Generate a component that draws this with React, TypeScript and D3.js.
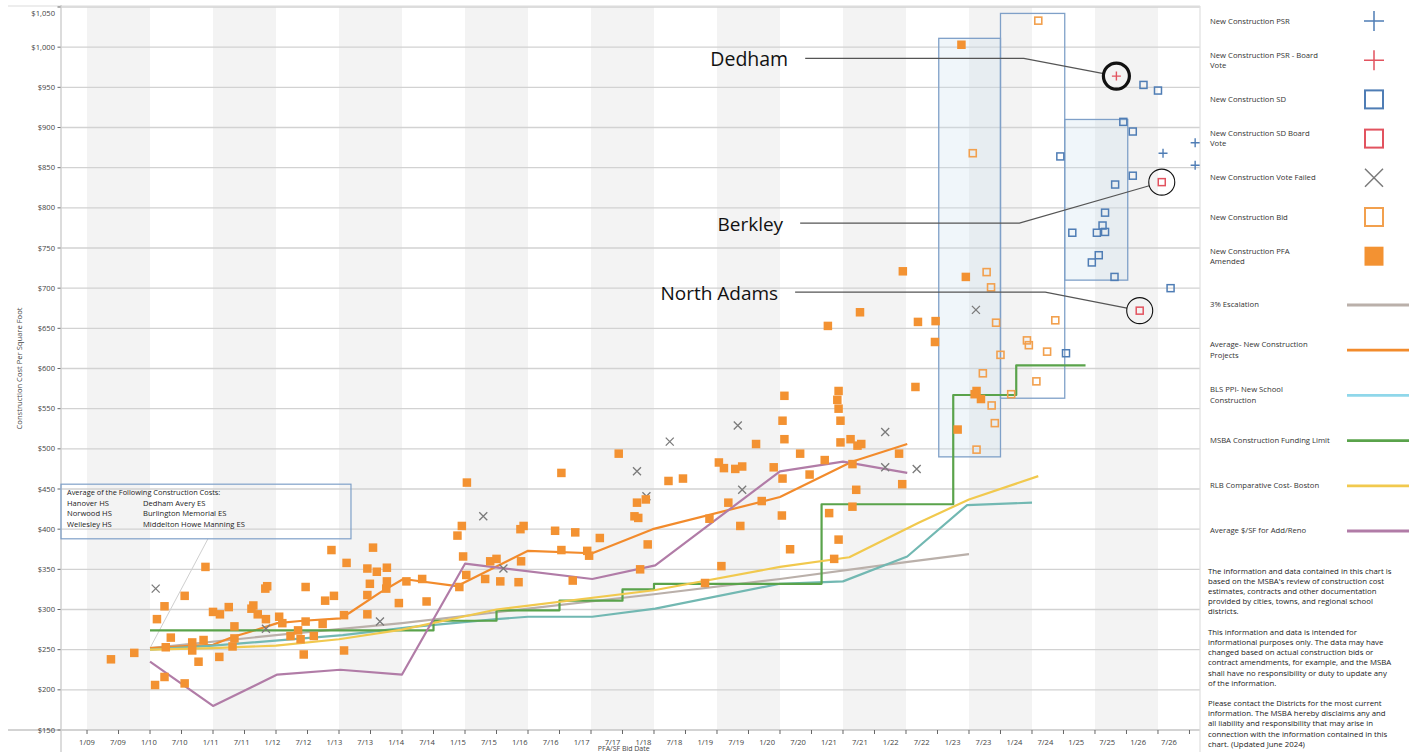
import React, { useEffect, useRef } from 'react';
import * as d3 from 'd3';

type Pt = [number, number];

// axis values
const yTicks = [150, 200, 250, 300, 350, 400, 450, 500, 550, 600, 650, 700, 750, 800, 850, 900, 950, 1000, 1050];
const xTickLabels = [
  '1/09', '7/09', '1/10', '7/10', '1/11', '7/11', '1/12', '7/12', '1/13', '7/13', '1/14', '7/14',
  '1/15', '7/15', '1/16', '7/16', '1/17', '7/17', '1/18', '7/18', '1/19', '7/19', '1/20', '7/20',
  '1/21', '7/21', '1/22', '7/22', '1/23', '7/23', '1/24', '7/24', '1/25', '7/25', '1/26', '7/26'
];
const shadedYears = [2009, 2011, 2013, 2015, 2017, 2019, 2021, 2023, 2025];

// scatter series: [decimal year, $ per sf]
const pfaAmended: Pt[] = [
  [2009.38, 238], [2009.75, 246], [2010.11, 288], [2010.23, 304], [2010.08, 206], [2010.23, 216], [2010.33, 265],
  [2010.25, 253], [2010.55, 317], [2010.55, 208], [2010.88, 353], [2010.67, 259], [2010.67, 249], [2010.77, 235],
  [2010.85, 262], [2011.0, 297], [2011.11, 294], [2011.1, 241], [2011.25, 303], [2011.34, 279], [2011.34, 264],
  [2011.31, 254], [2011.64, 305], [2011.61, 301], [2011.71, 294], [2011.84, 288], [2011.83, 326], [2011.86, 329],
  [2012.05, 291], [2012.1, 283], [2012.23, 267], [2012.35, 274], [2012.39, 263], [2012.44, 244], [2012.47, 328],
  [2012.47, 285], [2012.6, 267], [2012.74, 282], [2012.78, 311], [2012.92, 317], [2012.88, 374], [2013.08, 293],
  [2013.08, 249], [2013.12, 358], [2013.45, 351], [2013.45, 318], [2013.45, 294], [2013.49, 332], [2013.54, 377],
  [2013.6, 347], [2013.76, 352], [2013.76, 335], [2013.75, 326], [2013.95, 308], [2014.07, 335],
  [2014.32, 338], [2014.39, 310], [2014.88, 392], [2014.95, 404], [2015.03, 458], [2014.97, 366], [2015.02, 343],
  [2014.91, 328], [2015.32, 338], [2015.4, 360], [2015.5, 363], [2015.56, 335], [2015.85, 334], [2015.89, 360],
  [2015.88, 400], [2015.93, 404], [2016.43, 398], [2016.53, 470], [2016.53, 374], [2016.75, 396], [2016.71, 336],
  [2016.94, 373], [2016.97, 367], [2017.14, 389], [2017.44, 494], [2017.69, 416], [2017.75, 414], [2017.73, 433],
  [2017.87, 437], [2017.9, 381], [2017.78, 350], [2018.23, 460], [2018.46, 463], [2018.81, 333], [2018.88, 413],
  [2019.03, 483], [2019.11, 476], [2019.29, 475], [2019.4, 478], [2019.18, 433], [2019.07, 354], [2019.37, 404],
  [2019.62, 506], [2019.71, 435], [2019.9, 477], [2020.04, 463], [2020.03, 417], [2020.07, 566], [2020.04, 535],
  [2020.07, 512], [2020.16, 375], [2020.32, 494], [2020.47, 468], [2020.71, 486], [2020.78, 420], [2020.86, 363],
  [2020.93, 387], [2020.93, 572], [2020.91, 561], [2020.93, 550], [2020.96, 535], [2020.96, 508], [2021.12, 512],
  [2021.23, 504], [2021.29, 506], [2021.15, 481], [2021.21, 449], [2021.15, 428], [2021.89, 494], [2021.94, 456],
  [2022.15, 577], [2020.76, 653], [2021.27, 670], [2022.88, 1003], [2021.95, 721], [2022.95, 714], [2022.19, 658],
  [2022.47, 659], [2022.46, 633], [2023.12, 572], [2023.19, 562], [2023.09, 568], [2022.82, 524]
];
const bidPoints: Pt[] = [
  [2024.1, 1033], [2023.06, 868], [2023.28, 720], [2023.35, 701], [2023.43, 657], [2023.5, 617], [2023.22, 594],
  [2023.36, 554], [2023.41, 532], [2023.12, 499], [2023.67, 568], [2024.37, 660], [2023.92, 635], [2023.95, 629],
  [2024.24, 621], [2024.07, 584]
];
const sdPoints: Pt[] = [
  [2025.77, 953], [2026.0, 946], [2025.45, 907], [2025.6, 895], [2024.45, 864], [2025.6, 840], [2025.32, 829],
  [2025.16, 794], [2024.64, 769], [2025.12, 778], [2025.03, 769], [2025.16, 770], [2025.06, 741], [2024.95, 732],
  [2025.31, 714], [2026.2, 700], [2024.54, 619]
];
const psrPoints: Pt[] = [[2026.08, 868], [2026.59, 881], [2026.59, 853]];
const psrBoardVote: Pt[] = [[2025.34, 964]];
const sdBoardVote: Pt[] = [[2026.06, 832], [2025.71, 672]];
const voteFailed: Pt[] = [
  [2010.09, 326], [2011.84, 276], [2013.65, 285], [2015.29, 416], [2015.61, 351], [2017.73, 472], [2017.88, 441],
  [2018.25, 509], [2019.33, 529], [2019.4, 449], [2021.67, 521], [2021.67, 477], [2022.17, 475], [2023.11, 673]
];

// line series
const escalation3: Pt[] = [[2010.0, 252], [2012.0, 268], [2014.0, 283], [2016.0, 301], [2018.0, 319], [2020.0, 338], [2022.0, 359], [2023.0, 369]];
const avgNewConstruction: Pt[] = [
  [2010.0, 252], [2010.24, 253], [2010.68, 255], [2011.0, 256], [2011.32, 266], [2011.54, 271], [2012.02, 283],
  [2012.43, 286], [2013.02, 289], [2013.17, 296], [2013.65, 321], [2014.02, 338], [2014.87, 329], [2016.0, 373],
  [2017.02, 370], [2017.98, 400], [2020.0, 440], [2021.14, 484], [2022.02, 506]
];
const blsPpi: Pt[] = [
  [2010.0, 250], [2011.0, 255], [2013.06, 268], [2014.13, 278], [2015.5, 288], [2016.0, 291], [2017.02, 291],
  [2018.02, 301], [2020.0, 332], [2021.0, 335], [2022.02, 366], [2022.97, 430], [2024.0, 433]
];
const msbaLimit: Pt[] = [
  [2010.0, 274], [2014.5, 286], [2015.5, 299], [2016.5, 311], [2017.5, 325], [2018.0, 332], [2020.66, 431],
  [2022.75, 567], [2023.75, 604], [2024.85, 604]
];
const rlbBoston: Pt[] = [
  [2010.0, 250], [2011.0, 252], [2012.0, 255], [2013.0, 263], [2014.0, 275], [2015.5, 300], [2018.0, 324],
  [2020.0, 353], [2021.1, 365], [2022.2, 408], [2023.0, 437], [2024.1, 466]
];
const avgAddReno: Pt[] = [
  [2010.0, 235], [2011.0, 180], [2012.02, 219], [2013.02, 225], [2014.0, 219], [2015.0, 357], [2017.02, 338],
  [2018.02, 355], [2020.0, 472], [2021.0, 484], [2022.02, 470]
];

// highlight boxes [yr0, yr1, $low, $high]
const highlightBoxes = [
  { x0: 2022.52, x1: 2023.5, v0: 490, v1: 1011, filled: true },
  { x0: 2023.5, x1: 2024.52, v0: 563, v1: 1042, filled: false },
  { x0: 2024.52, x1: 2025.52, v0: 710, v1: 910, filled: true }
];

const callouts = [
  { name: 'Dedham', at: [2025.34, 964], lineV: 986, startYr: 2020.4, bendYr: 2023.87, heavy: true },
  { name: 'Berkley', at: [2026.06, 832], lineV: 781, startYr: 2020.32, bendYr: 2023.8, heavy: false },
  { name: 'North Adams', at: [2025.71, 672], lineV: 695, startYr: 2020.24, bendYr: 2024.21, heavy: false }
];

const noteRows = [
  ['Hanover HS', 'Dedham Avery ES'],
  ['Norwood HS', 'Burlington Memorial ES'],
  ['Wellesley HS', 'Middelton Howe Manning ES']
];

const disclaimer = [
  'The information and data contained in this chart is',
  "based on the MSBA's review of construction cost",
  'estimates, contracts and other documentation',
  'provided by cities, towns, and regional school',
  'districts.',
  '',
  'This information and data is intended for',
  'informational purposes only. The data may have',
  'changed based on actual construction bids or',
  'contract amendments, for example, and the MSBA',
  'shall have no responsibility or duty to update any',
  'of the information.',
  '',
  'Please contact the Districts for the most current',
  'information. The MSBA hereby disclaims any and',
  'all liability and responsibility that may arise in',
  'connection with the information contained in this',
  'chart. (Updated June 2024)'
];

const BLUE = '#4f7db5';
const RED = '#e2535f';
const ORANGE = '#f39232';
const ORANGE_OPEN = '#f2a04e';
const GREY_X = '#7a7a7a';

const markerLegend = [
  { label: ['New Construction PSR'], kind: 'plus', color: BLUE },
  { label: ['New Construction PSR - Board', 'Vote'], kind: 'plus', color: RED },
  { label: ['New Construction SD'], kind: 'open', color: BLUE },
  { label: ['New Construction SD Board', 'Vote'], kind: 'open', color: RED },
  { label: ['New Construction Vote Failed'], kind: 'x', color: GREY_X },
  { label: ['New Construction Bid'], kind: 'open', color: ORANGE_OPEN },
  { label: ['New Construction PFA', 'Amended'], kind: 'filled', color: ORANGE }
];

const lineSeries = [
  { label: ['3% Escalation'], data: escalation3, color: '#bab0aa', legendColor: '#bab0aa', step: false },
  { label: ['Average- New Construction', 'Projects'], data: avgNewConstruction, color: '#f28b2c', legendColor: '#f28b2c', step: false },
  { label: ['BLS PPI- New School', 'Construction'], data: blsPpi, color: '#72b8b2', legendColor: '#8fd7ea', step: false },
  { label: ['MSBA Construction Funding Limit'], data: msbaLimit, color: '#5aa34b', legendColor: '#5aa34b', step: true },
  { label: ['RLB Comparative Cost- Boston'], data: rlbBoston, color: '#f1c94e', legendColor: '#f1c94e', step: false },
  { label: ['Average $/SF for Add/Reno'], data: avgAddReno, color: '#b17ca7', legendColor: '#b17ca7', step: false }
];

const FONT = "'Open Sans', sans-serif";

const App: React.FC = () => {
  const svgRef = useRef<SVGSVGElement>(null);

  useEffect(() => {
    document.body.style.margin = '0';
    if (!svgRef.current) return;
    const svg = d3.select(svgRef.current);
    svg.selectAll('*').remove();

    const left = 61, right = 1200, top = 7, bottom = 730;
    const x = d3.scaleLinear().domain([2008.587, 2026.667]).range([left, right]);
    const y = d3.scaleLinear().domain([150, 1050]).range([bottom, top]);

    // alternating year bands
    svg.append('g').selectAll('rect')
      .data(shadedYears)
      .enter().append('rect')
      .attr('x', d => x(d))
      .attr('y', top)
      .attr('width', d => x(d + 1) - x(d))
      .attr('height', bottom - top)
      .attr('fill', '#f3f3f3');

    // grid
    svg.append('g').selectAll('line')
      .data(yTicks.filter(v => v > 150))
      .enter().append('line')
      .attr('x1', left).attr('x2', right)
      .attr('y1', d => y(d)).attr('y2', d => y(d))
      .attr('stroke', '#d2d2d2')
      .attr('stroke-width', 1.3);

    // frame
    svg.append('line').attr('x1', 8).attr('x2', right).attr('y1', top - 1).attr('y2', top - 1)
      .attr('stroke', '#dcdcdc').attr('stroke-width', 1.2);
    svg.append('line').attr('x1', 8).attr('x2', right).attr('y1', bottom).attr('y2', bottom)
      .attr('stroke', '#c4c4c4').attr('stroke-width', 1.3);
    svg.append('line').attr('x1', left).attr('x2', left).attr('y1', top - 2).attr('y2', 752)
      .attr('stroke', '#d0d0d0').attr('stroke-width', 1.5);
    svg.append('line').attr('x1', right).attr('x2', right).attr('y1', top - 1).attr('y2', 752)
      .attr('stroke', '#e0e0e0').attr('stroke-width', 1.2);

    // y axis labels
    const yAxis = svg.append('g');
    yTicks.forEach(v => {
      yAxis.append('line').attr('x1', 57.5).attr('x2', 60.5).attr('y1', y(v)).attr('y2', y(v))
        .attr('stroke', '#666').attr('stroke-width', 1);
      yAxis.append('text')
        .attr('x', 55)
        .attr('y', Math.max(y(v), 13))
        .attr('dy', '0.35em')
        .attr('text-anchor', 'end')
        .style('font-family', FONT)
        .style('font-size', '7.6px')
        .attr('fill', '#444')
        .text(d3.format('$,')(v));
    });
    svg.append('text')
      .attr('transform', `translate(19, ${y(600)}) rotate(-90)`)
      .attr('text-anchor', 'middle')
      .attr('dy', '0.35em')
      .style('font-family', FONT)
      .style('font-size', '7.6px')
      .attr('fill', '#444')
      .text('Construction Cost Per Square Foot');

    // x axis ticks + labels (labels in the source drift a little left of their ticks)
    const tickYears = d3.range(0, 36).map(i => 2009 + i * 0.5);
    svg.append('g').selectAll('line')
      .data(tickYears)
      .enter().append('line')
      .attr('x1', d => x(d)).attr('x2', d => x(d))
      .attr('y1', bottom).attr('y2', bottom + 4)
      .attr('stroke', '#666');
    const labelScale = d3.scalePoint<string>().domain(xTickLabels).range([x(2009), x(2026.175)]);
    svg.append('g').selectAll('text')
      .data(xTickLabels)
      .enter().append('text')
      .attr('x', d => labelScale(d) as number)
      .attr('y', 742)
      .attr('dy', '0.35em')
      .attr('text-anchor', 'middle')
      .style('font-family', FONT)
      .style('font-size', '7.6px')
      .attr('fill', '#444')
      .text(d => d);
    svg.append('text')
      .attr('x', x(2017.52))
      .attr('y', 751)
      .attr('text-anchor', 'middle')
      .style('font-family', FONT)
      .style('font-size', '7px')
      .attr('fill', '#444')
      .text('PFA/SF Bid Date');

    // highlight boxes
    svg.append('g').selectAll('rect')
      .data(highlightBoxes)
      .enter().append('rect')
      .attr('x', d => x(d.x0))
      .attr('y', d => y(d.v1))
      .attr('width', d => x(d.x1) - x(d.x0))
      .attr('height', d => y(d.v0) - y(d.v1))
      .attr('fill', d => d.filled ? 'rgba(205,225,240,0.3)' : 'none')
      .attr('stroke', '#7fa0c8')
      .attr('stroke-width', 1.3);

    // note box
    const noteG = svg.append('g');
    noteG.append('line')
      .attr('x1', x(avgNewConstruction[0][0])).attr('y1', y(avgNewConstruction[0][1]))
      .attr('x2', x(2010.92)).attr('y2', y(388))
      .attr('stroke', '#cfcfcf').attr('stroke-width', 1);
    noteG.append('rect')
      .attr('x', x(2008.587)).attr('y', y(456))
      .attr('width', x(2013.19) - x(2008.587))
      .attr('height', y(388) - y(456))
      .attr('fill', 'none')
      .attr('stroke', '#7fa0c8')
      .attr('stroke-width', 1.2);
    const noteX = x(2008.587) + 6;
    const noteTop = y(456) + 11;
    noteG.append('text')
      .attr('x', noteX).attr('y', noteTop)
      .style('font-family', FONT).style('font-size', '7.4px').attr('fill', '#222')
      .text('Average of the Following Construction Costs:');
    noteRows.forEach((row, i) => {
      noteG.append('text')
        .attr('x', noteX).attr('y', noteTop + (i + 1) * 10.5)
        .style('font-family', FONT).style('font-size', '7.6px').attr('fill', '#222')
        .text(row[0]);
      noteG.append('text')
        .attr('x', noteX + 76).attr('y', noteTop + (i + 1) * 10.5)
        .style('font-family', FONT).style('font-size', '7.6px').attr('fill', '#222')
        .text(row[1]);
    });

    // lines
    lineSeries.forEach(s => {
      const line = d3.line<Pt>()
        .x(d => x(d[0]))
        .y(d => y(d[1]))
        .curve(s.step ? d3.curveStepAfter : d3.curveLinear);
      svg.append('path')
        .datum(s.data)
        .attr('d', line)
        .attr('fill', 'none')
        .attr('stroke', s.color)
        .attr('stroke-width', 2.2)
        .attr('stroke-linejoin', 'round');
    });

    // markers
    const drawMarker = (g: d3.Selection<SVGGElement, unknown, null, undefined>, cx: number, cy: number,
      kind: string, color: string, size: number, sw: number) => {
      const h = size / 2;
      if (kind === 'plus') {
        g.append('path')
          .attr('d', `M${cx - h},${cy}H${cx + h}M${cx},${cy - h}V${cy + h}`)
          .attr('stroke', color).attr('stroke-width', sw).attr('fill', 'none');
      } else if (kind === 'x') {
        g.append('path')
          .attr('d', `M${cx - h},${cy - h}L${cx + h},${cy + h}M${cx - h},${cy + h}L${cx + h},${cy - h}`)
          .attr('stroke', color).attr('stroke-width', sw).attr('fill', 'none');
      } else if (kind === 'open') {
        g.append('rect')
          .attr('x', cx - h).attr('y', cy - h).attr('width', size).attr('height', size)
          .attr('fill', 'none').attr('stroke', color).attr('stroke-width', sw);
      } else {
        g.append('rect')
          .attr('x', cx - h).attr('y', cy - h).attr('width', size).attr('height', size)
          .attr('fill', color);
      }
    };

    const markG = svg.append('g') as d3.Selection<SVGGElement, unknown, null, undefined>;
    voteFailed.forEach(d => drawMarker(markG, x(d[0]), y(d[1]), 'x', GREY_X, 8, 1.3));
    pfaAmended.forEach(d => drawMarker(markG, x(d[0]), y(d[1]), 'filled', ORANGE, 8.5, 0));
    bidPoints.forEach(d => drawMarker(markG, x(d[0]), y(d[1]), 'open', ORANGE_OPEN, 7, 1.6));
    sdPoints.forEach(d => drawMarker(markG, x(d[0]), y(d[1]), 'open', BLUE, 7, 1.5));
    sdBoardVote.forEach(d => drawMarker(markG, x(d[0]), y(d[1]), 'open', RED, 7, 1.5));
    psrPoints.forEach(d => drawMarker(markG, x(d[0]), y(d[1]), 'plus', BLUE, 9, 1.4));
    psrBoardVote.forEach(d => drawMarker(markG, x(d[0]), y(d[1]), 'plus', RED, 9, 1.4));

    // callouts
    callouts.forEach(c => {
      const cx = x(c.at[0]), cy = y(c.at[1]);
      const ly = y(c.lineV);
      const sx = x(c.startYr), bx = x(c.bendYr);
      const r = 13;
      const dx = cx - bx, dy = cy - ly;
      const len = Math.sqrt(dx * dx + dy * dy);
      const ex = cx - (dx / len) * r, ey = cy - (dy / len) * r;
      svg.append('path')
        .attr('d', `M${sx},${ly}H${bx}L${ex},${ey}`)
        .attr('fill', 'none')
        .attr('stroke', '#555')
        .attr('stroke-width', 1.2);
      svg.append('circle')
        .attr('cx', cx).attr('cy', cy).attr('r', r)
        .attr('fill', 'none')
        .attr('stroke', '#111')
        .attr('stroke-width', c.heavy ? 3.2 : 1.1);
      svg.append('text')
        .attr('x', sx - 17)
        .attr('y', ly + 1)
        .attr('dy', '0.35em')
        .attr('text-anchor', 'end')
        .style('font-family', FONT)
        .style('font-size', c.heavy ? '19.5px' : '19px')
        .attr('fill', '#111')
        .text(c.name);
    });

    // legend
    const legend = svg.append('g') as d3.Selection<SVGGElement, unknown, null, undefined>;
    const addLabel = (lines: string[], cy: number) => {
      lines.forEach((t, i) => {
        legend.append('text')
          .attr('x', 1210)
          .attr('y', cy + (i - (lines.length - 1) / 2) * 10.4)
          .attr('dy', '0.35em')
          .style('font-family', FONT)
          .style('font-size', '7.7px')
          .attr('fill', '#333')
          .text(t);
      });
    };
    markerLegend.forEach((m, i) => {
      const cy = 21 + i * 39.2;
      addLabel(m.label, cy);
      const size = m.kind === 'filled' ? 19 : m.kind === 'open' ? 18 : m.kind === 'x' ? 18 : 20;
      drawMarker(legend, 1374, cy, m.kind, m.color, size, m.kind === 'open' ? 2 : 1.5);
    });
    lineSeries.forEach((s, i) => {
      const cy = 304.5 + i * 45.2;
      addLabel(s.label, cy);
      legend.append('line')
        .attr('x1', 1347).attr('x2', 1409)
        .attr('y1', cy + 0.5).attr('y2', cy + 0.5)
        .attr('stroke', s.legendColor)
        .attr('stroke-width', 2.8);
    });

    // disclaimer
    disclaimer.forEach((t, i) => {
      svg.append('text')
        .attr('x', 1208)
        .attr('y', 571 + i * 10.18)
        .attr('dy', '0.35em')
        .style('font-family', FONT)
        .style('font-size', '7.8px')
        .attr('fill', '#222')
        .text(t);
    });
  }, []);

  return (
    <svg
      ref={svgRef}
      width={1412}
      height={752}
      style={{ display: 'block', background: '#fff' }}
    />
  );
};

export default App;
